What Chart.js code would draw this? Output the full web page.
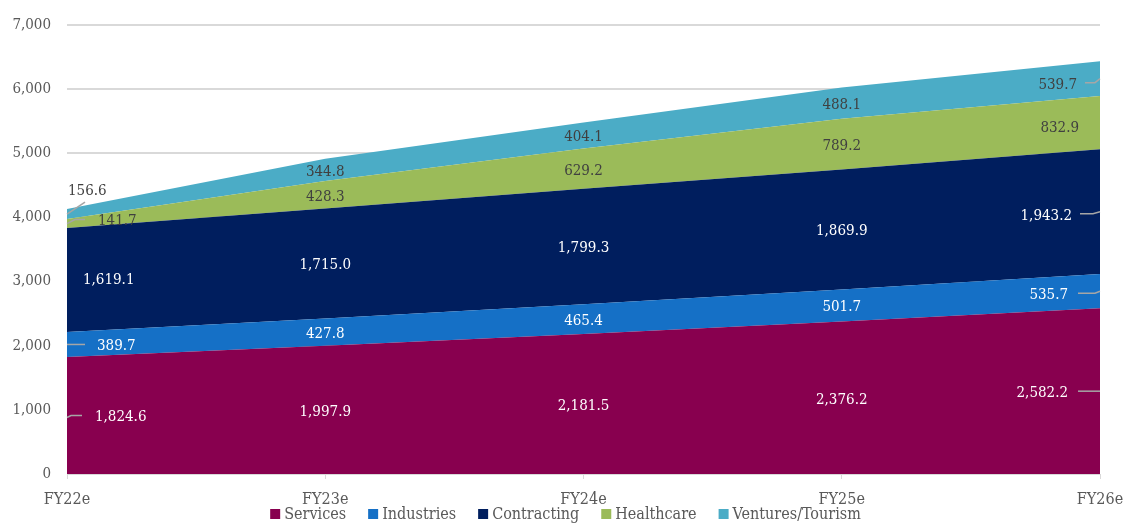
<!DOCTYPE html>
<html>
<head>
<meta charset="utf-8">
<script src="https://cdn.jsdelivr.net/npm/chart.js@4/dist/chart.umd.min.js"></script>
<style>
  html, body { margin: 0; padding: 0; background: #fff; }
</style>
</head>
<body>
<canvas id="grafico" width="1123" height="523"></canvas>
<script>
const anios = ['FY22e', 'FY23e', 'FY24e', 'FY25e', 'FY26e'];
const services = [1824.6, 1997.9, 2181.5, 2376.2, 2582.2];
const industries = [389.7, 427.8, 465.4, 501.7, 535.7];
const contracting = [1619.1, 1715.0, 1799.3, 1869.9, 1943.2];
const healthcare = [141.7, 428.3, 629.2, 789.2, 832.9];
const ventures = [156.6, 344.8, 404.1, 488.1, 539.7];
const nombres = ['Services', 'Industries', 'Contracting', 'Healthcare', 'Ventures/Tourism'];
const ticksY = [0, 1000, 2000, 3000, 4000, 5000, 6000, 7000];

const colores = ['#88004f', '#1570c6', '#001e5e', '#9bbb59', '#4bacc6'];
const colorTexto = ['#ffffff', '#ffffff', '#ffffff', '#404040', '#404040'];
const FUENTE = '"DejaVu Serif Condensed", "DejaVu Serif", serif';

// ajustes de las etiquetas en los extremos (primer y ultimo punto)
const inicio = [
  { dx: 28, dy: 0, linea: [[0, 2], [4, 0], [15, 0]] },
  { dx: 30, dy: 0, linea: [[0, 0], [18, 0]] },
  { dx: 16, dy: -2, linea: null },
  { dx: 31, dy: -4, linea: [[0, 0], [8, -4], [18, -4]] },
  { dx: 1, dy: -25, linea: [[0, 0], [18, -12]] }
];
const fin = [
  { dx: -32, dy: 0, linea: [[-22, 0], [0, 0]] },
  { dx: -32, dy: 2, linea: [[-22, 2], [-5, 2], [0, 0]] },
  { dx: -28, dy: 2, linea: [[-20, 2], [-7, 2], [0, 0]] },
  { dx: -21, dy: 3, linea: null },
  { dx: -23, dy: 4, linea: [[-15, 4], [-5, 4], [0, 0]] }
];

function formato(v) {
  return v.toLocaleString('en-US', { minimumFractionDigits: 1, maximumFractionDigits: 1 });
}

const etiquetas = {
  id: 'etiquetas',
  afterDatasetsDraw(chart) {
    const ctx = chart.ctx;
    const x = chart.scales.x, y = chart.scales.y;
    const ultimo = anios.length - 1;
    ctx.save();
    ctx.font = '15px ' + FUENTE;
    ctx.textBaseline = 'middle';
    chart.data.datasets.forEach((ds, i) => {
      ds.data.forEach((v, j) => {
        let base = 0;
        for (let k = 0; k < i; k++) base += chart.data.datasets[k].data[j];
        const px = x.getPixelForValue(j);
        const py = y.getPixelForValue(base + v / 2);
        let ajuste = null, alinear = 'center';
        if (j === 0) { ajuste = inicio[i]; alinear = 'left'; }
        else if (j === ultimo) { ajuste = fin[i]; alinear = 'right'; }
        let tx = px, ty = py + 2;
        if (ajuste) {
          tx += ajuste.dx;
          ty += ajuste.dy;
          if (ajuste.linea) {
            ctx.beginPath();
            ctx.strokeStyle = '#a6a6a6';
            ctx.lineWidth = 1.5;
            ajuste.linea.forEach((p, n) => {
              if (n === 0) ctx.moveTo(px + p[0], py + p[1]);
              else ctx.lineTo(px + p[0], py + p[1]);
            });
            ctx.stroke();
          }
        }
        ctx.fillStyle = colorTexto[i];
        ctx.textAlign = alinear;
        ctx.fillText(formato(v), tx, ty);
      });
    });
    ctx.restore();
  }
};

const leyenda = {
  id: 'leyenda',
  afterDraw(chart) {
    const ctx = chart.ctx;
    ctx.save();
    ctx.font = '16px ' + FUENTE;
    ctx.textBaseline = 'middle';
    ctx.textAlign = 'left';
    const caja = 10, separa = 4, hueco = 22;
    const anchos = nombres.map(n => caja + separa + ctx.measureText(n).width);
    const total = anchos.reduce((a, b) => a + b, 0) + hueco * (nombres.length - 1);
    let cx = chart.width / 2 - total / 2 + 4;
    const cy = 514;
    nombres.forEach((n, i) => {
      ctx.fillStyle = colores[i];
      ctx.fillRect(cx, cy - caja / 2, caja, caja);
      ctx.fillStyle = '#595959';
      ctx.fillText(n, cx + caja + separa, cy + 1);
      cx += anchos[i] + hueco;
    });
    ctx.restore();
  }
};

const series = [services, industries, contracting, healthcare, ventures];

new Chart(document.getElementById('grafico'), {
  type: 'line',
  data: {
    labels: anios,
    datasets: series.map((d, i) => ({
      label: nombres[i],
      data: d,
      backgroundColor: colores[i],
      borderColor: colores[i],
      borderWidth: 0,
      pointRadius: 0,
      tension: 0,
      fill: i === 0 ? 'origin' : '-1'
    }))
  },
  options: {
    responsive: false,
    animation: false,
    devicePixelRatio: 1,
    layout: { padding: { top: 16, left: 0, right: 0, bottom: 0 } },
    plugins: {
      legend: { display: false },
      tooltip: { enabled: false }
    },
    scales: {
      x: {
        stacked: true,
        offset: false,
        afterFit(scale) { scale.paddingRight = 23; scale.paddingLeft = 0; scale.height = 49; },
        grid: { drawOnChartArea: false, drawTicks: true, tickLength: 5, color: '#d9d9d9' },
        border: { display: true, color: '#d9d9d9', width: 1 },
        ticks: { color: '#595959', font: { family: FUENTE, size: 16 }, padding: 11, maxRotation: 0, autoSkip: false }
      },
      y: {
        stacked: true,
        min: 0,
        max: 7000,
        afterFit(scale) { scale.width = 67; },
        afterBuildTicks(scale) { scale.ticks = ticksY.map(v => ({ value: v })); },
        grid: { color: '#d9d9d9', lineWidth: 2, drawTicks: false },
        border: { display: false },
        ticks: {
          color: '#595959',
          font: { family: FUENTE, size: 15 },
          padding: 16,
          callback: v => v.toLocaleString('en-US')
        }
      }
    }
  },
  plugins: [etiquetas, leyenda]
});
</script>
</body>
</html>
